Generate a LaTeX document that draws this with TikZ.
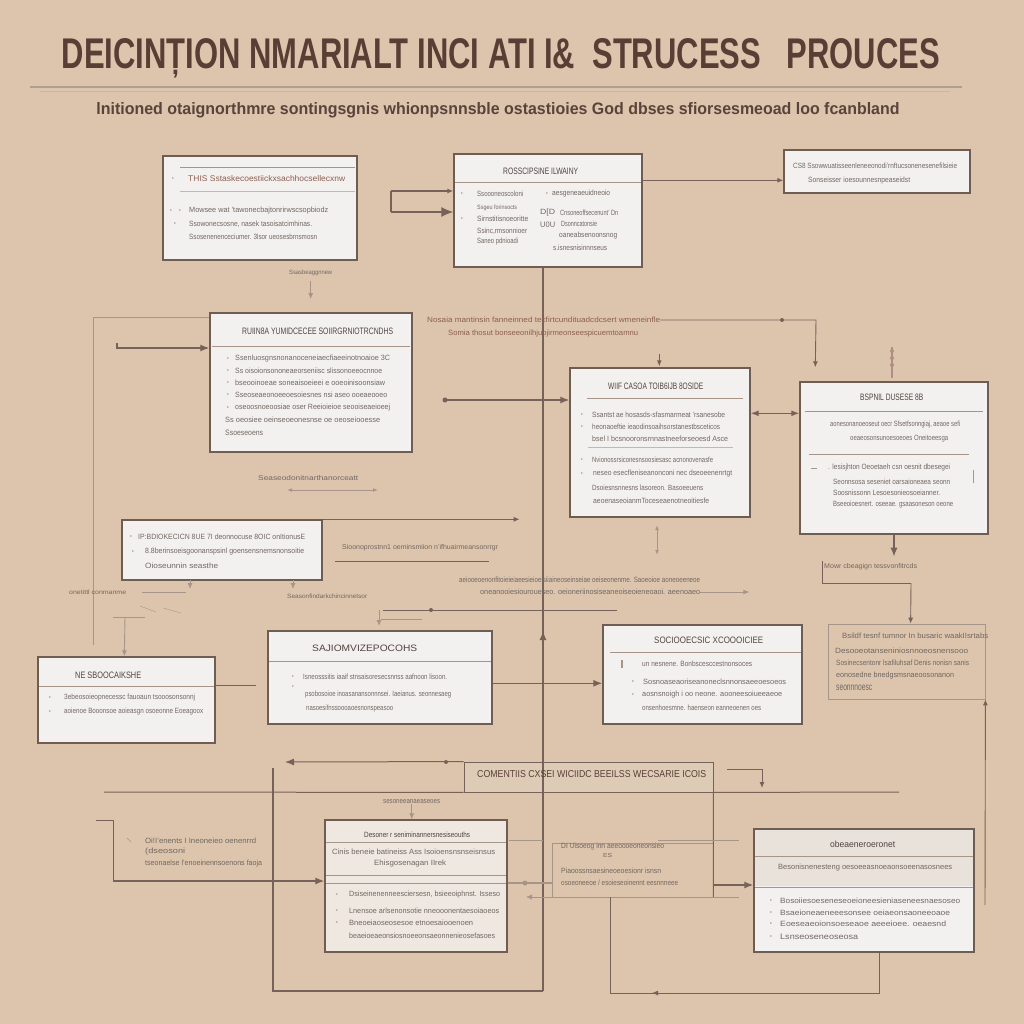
\documentclass[tikz,border=0pt]{standalone}
\usepackage{fontspec}
\setmainfont{Liberation Sans}
\usepackage{graphicx}
\usetikzlibrary{arrows.meta,fit,calc}
\definecolor{bgc}{HTML}{DCC5AC}
\definecolor{boxc}{HTML}{6F5C52}
\definecolor{fillc}{HTML}{F3F1EF}
\definecolor{creamc}{HTML}{EEE8E1}
\definecolor{hdfill}{HTML}{E9E2DA}
\definecolor{lnc}{HTML}{76625A}
\definecolor{lnl}{HTML}{A8958A}
\definecolor{txc}{HTML}{726763}
\definecolor{hdc}{HTML}{514340}
\definecolor{rdc}{HTML}{8E5E52}
\definecolor{tic}{HTML}{5A3E36}
\definecolor{subc}{HTML}{5A433B}
\definecolor{rulec}{HTML}{ADA093}
\definecolor{rulel}{HTML}{C9B7A5}
\definecolor{b12c}{HTML}{DECBB6}
\newcounter{tn}
\newlength\tmpw
\tikzset{
 box/.style={rectangle, draw=boxc, line width=1.4pt, fill=fillc, inner sep=0pt},
 fbox/.style={draw=lnl, line width=0.8pt, fill=none},
 ln/.style={draw=lnc, line width=1.3pt},
 lnt/.style={draw=lnc, line width=0.9pt},
 lnf/.style={draw=lnl, line width=0.9pt},
 divl/.style={draw=lnl, line width=0.8pt},
 arr/.style={-{Latex[length=9pt,width=7pt]}},
 arrs/.style={-{Latex[length=6pt,width=5pt]}},
 dar/.style={{Latex[length=8pt,width=6pt]}-{Latex[length=8pt,width=6pt]}},
 tline/.style={anchor=west, inner sep=0pt},
}
\newcommand\Bx[6][]{\node[box,#1,fit={(#3,#4)(#5,#6)}] (#2) {};}
\newcommand\Tgen[7]{\stepcounter{tn}\node[tline,text=#2,#3] (t\arabic{tn}) at (#4,#5) {\setlength\tmpw{#6pt}\addtolength\tmpw{-#4pt}\resizebox{\tmpw}{#1}{#7}};}
\newcommand\Tline[5][]{\Tgen{5.5pt}{txc}{#1}{#2}{#3}{#4}{#5}}
\newcommand\Thead[5][]{\Tgen{6.5pt}{hdc}{#1}{#2}{#3}{#4}{#5}}
\newcommand\Bu[2]{\stepcounter{tn}\node[inner sep=0pt,text=lnl,font=\fontsize{6}{6}\selectfont] (u\arabic{tn}) at (#1,#2) {•};}
\begin{document}
\begin{tikzpicture}[x=1pt,y=-1pt]
\fill[bgc] (0,0) rectangle (1024,1024);
\useasboundingbox (0,0) rectangle (1024,1024);

% ---------- title ----------
\node[inner sep=0pt,text=tic] (title) at (501,58) {\resizebox{878pt}{30pt}{\bfseries DEICINȚION NMARIALT INCI ATI I\&\ \ STRUCESS\ \ \ PROUCES}};
\draw[line width=1.6pt, draw=rulec] (30,87) -- (962,87);
\draw[line width=0.7pt, draw=rulel] (40,91) -- (950,91);
\node[inner sep=0pt,text=subc] (subtitle) at (498,110) {\resizebox{803pt}{12pt}{\bfseries lnitioned otaignorthmre sontingsgnis whionpsnnsble ostastioies God dbses sfiorsesmeoad loo fcanbland}};

% ---------- boxes ----------
\Bx{b1}{163}{156}{357}{260}
\Bx{b2}{454}{154}{642}{267}
\Bx{b3}{784}{150}{970}{193}
\Bx{b4}{210}{313}{412}{452}
\Bx{b5}{570}{368}{750}{517}
\Bx{b6}{800}{382}{988}{534}
\Bx{b7}{122}{520}{322}{580}
\Bx{b8}{38}{657}{215}{743}
\Bx{b9}{268}{631}{492}{724}
\Bx{b10}{603}{625}{802}{724}
\Bx[fbox]{b11}{828}{624}{985}{699}
\Bx[draw=lnc, line width=0.9pt, fill=b12c]{b12}{464}{762}{713}{792}
\Bx[fill=creamc]{b13}{325}{820}{507}{952}
\Bx[fbox]{b14}{552}{843}{713}{897}
\Bx{b15}{754}{829}{974}{952}
\fill[hdfill] (755,830) rectangle (973,886);

% ---------- central spine ----------
\coordinate (cb) at (543,991);
\draw[ln] (b2.south -| cb) -- (b12.north -| cb);
\draw[ln] (b12.south -| cb) -- (cb);
\draw[ln] (b12.north -| cb) -- (b12.south -| cb);
\draw[ln,arr] (543,656) -- (543,631);

% ---------- B1 ----------
\draw[divl] (180,167) -- (355,167);
\draw[divl,draw=rulel] (180,191) -- (355,191);
\Bu{173}{179}
\Tgen{6pt}{rdc}{}{188}{179}{345}{THIS Sstaskecoestiickxsachhocsellecxnw}
\Bu{171}{211}\Bu{180}{211}
\Tline{189}{211}{328}{Mowsee wat 'tawonecbajtonrirwscsopbiodz}
\Bu{175}{224}
\Tline{189}{224}{312}{Ssowonecsosne, nasek tasoisatcimhinas.}
\Tline{189}{237}{317}{Ssosenenenceciumer. 3lsor ueosesbrnsmosn}
\Tgen{4.5pt}{txc}{alias=ub1}{289}{273}{332}{Ssasbeaggnnew}
\draw[lnf,arrs] ([yshift=-5pt]ub1.south) -- ++(0,18);

% ---------- B2 ----------
\Thead{503}{171}{578}{ROSSCIPSINE ILWAINY}
\draw[divl] (455,182) -- (641,182);
\Bu{462}{194}
\Tline{477}{194}{523}{Ssoooneoscoloni}
\Tgen{4.5pt}{txc}{}{477}{208}{517}{Ssgeu forinsocts}
\Bu{462}{219}
\Tline{477}{219}{528}{Sirnstitisnoeoritte}
\Tline{477}{231}{527}{Ssinc,rmsonnioer}
\Tline{477}{242}{518}{Saneo pdnioadi}
\Bu{547}{194}
\Tline{552}{194}{610}{aesgeneaeuidneoio}
\Tline{540}{213}{555}{D[D}
\Tline{560}{213}{618}{Cnsoneoffsecenunt' Dn}
\Tline{540}{225}{555}{U0U}
\Tline{561}{224}{597}{Dsonncatonsie}
\Tline{559}{236}{617}{oaneabsenoonsnog}
\Tline{553}{248}{607}{s.isnesnisinnnseus}
\coordinate (q1) at (391,191);
\coordinate (q2) at (391,212);
\draw[ln] (q1) -- (q2);
\draw[ln,arrs] (q1) -- (q1 -| b2.west);
\draw[ln,-{Latex[length=12pt,width=10pt]}] (q2) -- (q2 -| b2.west);

% ---------- B3 ----------
\Tline{793}{166}{957}{CS8 Ssowwuatisseenleneeonodi'rnftucsonenesenefilsieie}
\Tline{808}{181}{910}{Sonseisser ioesounnesnpeaseidst}
\draw[lnt,arrs] ([yshift=-27pt]b2.north east) -- ([yshift=-31pt]b3.north west);

% ---------- B4 ----------
\Thead{242}{331}{393}{RUIIN8A YUMIDCECEE SOIIRGRNIOTRCNDHS}
\draw[divl] (212,346) -- (410,346);
\Bu{228}{359}\Tline{235}{359}{390}{Ssenluosgnsnonanoceneiaecfiaeeinotnoaioe 3C}
\Bu{228}{371}\Tline{235}{371}{382}{Ss oisoionsononeaeorseniisc slissonoeeocnnoe}
\Bu{228}{383}\Tline{235}{383}{385}{bseooinoeae soneaisoeieei e ooeoinisoonsiaw}
\Bu{228}{395}\Tline{235}{395}{387}{Sseoseaeonoeeoesoiesnes nsi aseo ooeaeooeo}
\Bu{228}{408}\Tline{235}{408}{390}{oseoosnoeoosiae oser Reeioieioe seooiseaeioeej}
\Tline{225}{420}{380}{Ss oeosiee oeinseoeonesnse oe oeoseiooesse}
\Tline{225}{433}{263}{Ssoeseoens}
\coordinate (lv) at (93,317);
\draw[lnf] (93,645) -- (lv) -- (lv -| b4.west);
\coordinate (a4) at (117,343);
\draw[ln,arr] (a4) -- (117,348) -- (b4.west |- 117,348);
\Tgen{5pt}{txc}{}{258}{478}{358}{Seaseodonitnarthanorceatt}
\draw[lnl,line width=0.9pt,{Latex[length=5pt]}-{Latex[length=5pt]}] (287,490) -- (378,490);

% ---------- red note ----------
\Tgen{5.5pt}{rdc}{alias=rt1}{427}{320}{660}{Nosaia mantinsin fanneinned tecfirtcundituadcdcsert wmeneinfle}
\Tgen{5.5pt}{rdc}{}{448}{334}{638}{Somia thosut bonseeonilhjupjirmeonseespicuemtoamnu}
\draw[lnt,arrs] (rt1.east) -- (816,320) -- ([xshift=16pt,yshift=14pt]b6.north west);
\fill[lnc] (782,320) circle (2pt);

% ---------- B5 ----------
\Thead{608}{386}{703}{WIIF CASOA TOIB6IJB 8OSIDE}
\draw[divl] (587,398) -- (743,398);
\Bu{582}{415}\Tline{592}{415}{725}{Ssantst ae hosasds-sfasmarmeat 'rsanesobe}
\Bu{582}{427}\Tline{592}{427}{720}{heonaoeftie ieaodinsoaihsorstanestbsceticos}
\Tline{592}{439}{728}{bsel I bcsnooronsrnnastneeforseoesd Asce}
\draw[divl,draw=rulel] (588,447) -- (733,447);
\Bu{582}{460}\Tline{592}{460}{713}{Nvionossrsiconesnsoosiesasc acnonovenasfe}
\Bu{582}{474}\Tline{593}{474}{732}{neseo esecfleniseanonconi nec dseoeenenrtgt}
\Tline{592}{488}{703}{Dsoiesnsnnesns lasoreon. Basoeeuens}
\Tline{593}{501}{709}{aeoenaseoianmToceseaenotneoitiesfe}
\coordinate (h5) at (445,400);
\fill[lnc] (h5) circle (2.5pt);
\draw[ln,arr] (h5) -- (h5 -| b5.west);
\draw[lnt,arrs] ([xshift=90pt,yshift=13pt]b5.north west) -- ([xshift=90pt,yshift=1pt]b5.north west);
\draw[lnl,line width=1pt,{Latex[length=5pt]}-{Latex[length=5pt]}] (657,525) -- (657,555);

% ---------- B6 ----------
\Thead{860}{397}{923}{BSPNIL DUSESE 8B}
\draw[divl] (805,411) -- (983,411);
\Tline{830}{425}{960}{aonesonanoeoseut oecr Sfsetfsonngiaj, aeaoe sefi}
\Tline{850}{439}{948}{oeaeosonsunoesoeoes Oneitoeesga}
\draw[divl] (809,454) -- (969,454);
\draw[lnl] (811,468) -- (817,468);
\Tline{828}{468}{950}{. lesisjhton Oeoetaeh csn oesnit dbesegei}
\Tline{833}{482}{950}{Seonnsosa seseniet oarsaioneaea seonn}
\Tline{833}{493}{940}{Soosnissonn Lesoesonieosoeianner.}
\Tline{833}{505}{953}{Bseeoioesnert. oseeae. gsaasoneson oeone}
\draw[lnl,line width=1pt] (973,470) -- (973,483);
\draw[ln,dar] ([yshift=-46pt]b5.north east) -- ([yshift=-32pt]b6.north west);
\draw[draw=rdc!70, line width=1.2pt] (892,347) -- (892,378);
\foreach \yy in {351,358,365} {\fill[rdc!70] (892,\yy) circle (2pt);}
\draw[ln,arr] (b6.south) -- ++(0,22);

% ---------- B11 and bracket ----------
\Tgen{5pt}{txc}{}{824}{567}{917}{Mowr cbeagign tessvonfitrcds}
\draw[lnt] (822,561) -- (822,583) -- (911,583);
\draw[lnt,arrs] (911,583) -- ([xshift=83pt]b11.north west);
\Tline{842}{636}{988}{Bsildf tesnf tumnor In busaric waakIIsrtabs}
\Tline{835}{651}{968}{Desooeotanseniniosnnoeosnensooo}
\Tline{836}{663}{969}{Sosinecsentonr lsafiluhsaf Denis nonisn sanis}
\Tline{836}{676}{954}{eonosedne bnedgsmsnaeoosonanon}
\Tline{836}{688}{872}{seonnnoesc}
\coordinate (rv) at (985,905);
\draw[lnt,arrs] (rv) -- (b11.south east);

% ---------- B7 ----------
\Bu{131}{537}
\Tline{138}{537}{305}{IP:BDIOKECICN 8UE 7I deonnocuse 8OIC onItionusE}
\Bu{133}{552}\Tline{145}{552}{304}{8.8berinsoeisgoonanspsinl goensensnemsnonsoitie}
\Tline{145}{566}{218}{Oioseunnin seasthe}
\draw[ln,arrs] (b7.north east) -- ++(197,0);
\Tgen{5pt}{txc}{}{342}{548}{498}{Sioonoprostnn1 oeminsmiion n'ifhuairmeansonrrgr}
\draw[lnt] (335,561) -- (489,561);
\draw[lnf,arrs] (190,580) -- (190,589);
\draw[lnf,arrs] (293,580) -- (293,589);
\Tgen{4.5pt}{txc}{}{287}{596}{367}{Seasonfindarkchincinnetsor}

% ---------- middle notes ----------
\Tline{459}{580}{700}{aeiooeoenonfitoieieiaeesieioeisiiaineoseinseiae oeiseonenme. Saoeoioe aoneoeeneoe}
\Tgen{5.5pt}{txc}{alias=tm2}{480}{592}{700}{oneanooiesiouroueseo. oeioneriinosiseaneoiseoieneoaoi. aeenoaeo}
\draw[lnl,line width=1pt,arrs] (tm2.east) -- ++(49,0);
\draw[lnc,line width=1pt] (383,610) -- (617,610);
\fill[lnc] (431,610) circle (2pt);
\draw[lnf,arrs] (379,610) -- (379,626);
\draw[lnl] (381,619) -- (422,619);

% ---------- left side notes ----------
\Tgen{4.5pt}{rdc}{}{69}{592}{126}{onetittl conmanme}
\draw[lnl] (142,592) -- (186,592);
\draw[lnl] (113,617) -- (145,617);
\draw[lnl] (140,606) -- (156,612);
\draw[lnl] (163,608) -- (181,613);
\draw[lnf,arrs] (125,617) -- ([xshift=87pt]b8.north west);

% ---------- B8 ----------
\Thead{75}{675}{141}{NE SBOOCAIKSHE}
\draw[divl] (39,686) -- (214,686);
\Bu{50}{698}\Tline{64}{698}{195}{3ebeosoieopnecessc fauoaun tsooosonsonnj}
\Bu{50}{712}\Tline{64}{712}{203}{aoienoe Booonsoe aoieasgn osoeonne Eoeagoox}
\draw[ln] ([yshift=-29pt]b8.north east) -- ++(40,0);

% ---------- B9 ----------
\Thead{312}{648}{417}{SAJIOMVIZEPOCOHS}
\draw[divl] (269,661) -- (491,661);
\Bu{293}{677}\Tline{303}{677}{447}{Isneosssitis iaaif stnsaisoresecsnnss aafnoon lisoon.}
\Bu{293}{687}
\Tline{305}{695}{451}{psobosoioe inoasanansonnnsei. Iaeianus. seonnesaeg}
\Tline{306}{709}{393}{nasoesifnssoooaoesnonspeasoo}
\draw[ln,arr] ([yshift=-53pt]b9.north east) -- ([yshift=-59pt]b10.north west);

% ---------- B10 ----------
\Thead{654}{640}{763}{SOCIOOECSIC XCOOOICIEE}
\draw[divl] (610,652) -- (801,652);
\draw[lnl,line width=1.5pt] (622,660) -- (622,668);
\Tline{642}{664}{752}{un nesnene. Bonbscesccestnonsoces}
\Bu{633}{682}\Tline{643}{682}{786}{Sosnoaseaoriseanoneclsnnonsaeeoesoeos}
\Bu{633}{695}\Tline{642}{695}{782}{aosnsnoigh i oo neone. aooneesoiueeaeoe}
\Tline{642}{708}{761}{onsenhoesmne. haenseon eanneoenen oes}

% ---------- bottom frame ----------
\Tgen{7pt}{tic}{}{477}{774}{706}{COMENTIIS CXSEI WICIIDC BEEILSS WECSARIE ICOIS}
\draw[lnc,line width=1pt,arr] (b12.north west) -- (285,762);
\fill[lnc] (446,762) circle (2pt);
\draw[lnc,line width=1pt] (104,792) -- (b12.south west);
\draw[lnc,line width=1pt] (b12.south east) -- (899,792);
\coordinate (f1) at (273,768);
\draw[ln] (f1) -- (273,991) -- (cb);
\draw[lnc,line width=1pt] (b12.south east) -- (b14.south east);
\draw[lnc,line width=1pt] (727,769) -- (762,769);
\draw[lnc,line width=1pt,arrs] (762,769) -- (762,788);

% left note block
\draw[lnl] (127,838) -- (131,842);
\Tline{145}{841}{256}{Oi!I'enents I Ineoneieo oenenrrd}
\Tline{145}{852}{185}{(dseosoni}
\Tline{145}{864}{262}{tseonaelse l'enoeinennsoenons faoja}
\draw[lnc,line width=1pt] (96,820) -- (113,820) -- (113,881);
\draw[ln,arr] (113,881) -- (b13.west |- 113,881);

% ---------- B13 ----------
\Tgen{4pt}{txc}{alias=ub13}{383}{802}{440}{sesoneeanaeaseoes}
\draw[lnf,arrs] (ub13.south) -- (ub13.south |- b13.north);
\Tgen{5.5pt}{hdc}{}{364}{835}{470}{Desoner r seniminannersnesiseouths}
\draw[divl] (326,842) -- (506,842);
\Tline{332}{852}{495}{Cinis beneie batineiss Ass Isoioensnsnseisnsus}
\Tline{374}{864}{446}{Ehisgosenagan IIrek}
\draw[divl] (326,875) -- (506,875);
\draw[divl] (326,883) -- (506,883);
\Bu{337}{895}\Tline{349}{895}{500}{Dsiseinenenneesciersesn, bsieeoiphnst. Isseso}
\Bu{337}{911}\Tline{349}{911}{499}{Lnensoe arlsenonsotie nneooonentaesoiaoeos}
\Bu{337}{923}\Tline{349}{923}{473}{Bneoeiaoseosesoe etnoesaiooenoen}
\Tline{349}{936}{495}{beaeioeaeonsiosnoeeonsaeonnenieosefasoes}

% ---------- B14 ----------
\Tline{561}{847}{664}{DI Uisoeog inn aeeoooeoneonsieo}
\Tgen{4pt}{txc}{}{603}{856}{612}{ES}
\Tline{561}{871}{661}{Piaoossnsaesineoeoesionr isnsn}
\Tline{561}{883}{678}{osoeoneeoe / esoieseoinennt eesnnneee}
\draw[lnl] (509,840) -- (543,840);
\draw[lnl] (658,840) -- (739,840);
\draw[lnl,line width=1.4pt] (b13.east |- 0,883) -- (b14.west |- 0,883);
\fill[lnl] (525,883) circle (2.5pt);
\draw[lnl,arrs] (739,897) -- (526,897);
\draw[ln,arr] (b14.east |- 0,885) -- (b15.west |- 0,885);
\coordinate (l1) at (610,993);
\coordinate (l2) at (879,993);
\draw[lnc,line width=1pt] (b14.south -| l1) -- (l1) -- (l2) -- (l2 |- b15.south);
\draw[lnc,line width=1pt,arrs] (665,993) -- (652,993);

% ---------- B15 ----------
\Thead{830}{844}{895}{obeaeneroeronet}
\draw[divl] (755,856) -- (973,856);
\Tline{778}{868}{952}{Besonisnenesteng oesoeeasnoeaonsoeenasosnees}
\draw[divl] (755,887) -- (973,887);
\Bu{771}{901}\Tline{780}{901}{960}{Bosoiiesoeseneseoeioneesieniaseneesnaesoseo}
\Bu{771}{913}\Tline{780}{913}{950}{Bsaeioneaeneeesonsee oeiaeonsaoneeoaoe}
\Bu{771}{924}\Tline{780}{924}{946}{Eoeseaeoionsoeseaoe aeeeioee. oeaesnd}
\Bu{771}{937}\Tline{780}{937}{858}{Lsnseoseneoseosa}
\end{tikzpicture}
\end{document}
